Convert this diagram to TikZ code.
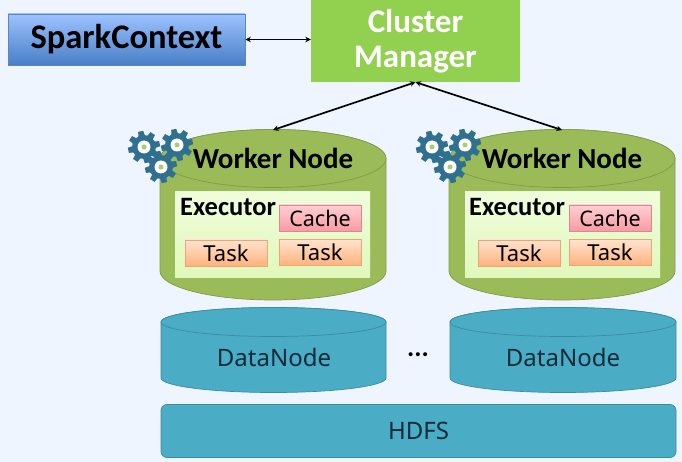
\documentclass[tikz,border=0pt]{standalone}
\usepackage{fontspec}
\setmainfont{Carlito}
\newfontfamily\thinfont{Noto Sans}
\usetikzlibrary{arrows.meta,calc}
\definecolor{bgc}{HTML}{EFF5FE}
\definecolor{wfill}{HTML}{9BBB59}
\definecolor{wline}{HTML}{7F9C48}
\definecolor{dfill}{HTML}{4BACC6}
\definecolor{dline}{HTML}{3A8CA2}
\definecolor{gearc}{HTML}{2F6F8F}
\definecolor{cmc}{HTML}{92D050}
\definecolor{sctop}{HTML}{9DC2FF}
\definecolor{scbot}{HTML}{487FC6}
\definecolor{scline}{HTML}{5B86BE}
\definecolor{catop}{HTML}{FFCFD2}
\definecolor{cabot}{HTML}{F99AA3}
\definecolor{caline}{HTML}{D98A8F}
\definecolor{tatop}{HTML}{FFE3CF}
\definecolor{tabot}{HTML}{FFB27C}
\definecolor{taline}{HTML}{EBA673}
\definecolor{extop}{HTML}{F0FDDC}
\definecolor{exbot}{HTML}{E0F8BC}
\definecolor{dtext}{HTML}{0F2A38}
\tikzset{
  link/.style={{Stealth[length=5.5pt,width=5.5pt]}-{Stealth[length=5.5pt,width=5.5pt]},line width=1.7pt,black},
  cmbox/.style={fill=cmc,draw=none,minimum width=209pt,minimum height=82pt,inner sep=0pt,align=center,text=white,font=\bfseries\fontsize{33}{34}\selectfont},
  scbox/.style={top color=sctop,bottom color=scbot,draw=scline,line width=.6pt,minimum width=237pt,minimum height=51pt,inner sep=0pt,font=\bfseries\fontsize{34.5}{36}\selectfont},
  cachebox/.style={top color=catop,bottom color=cabot,draw=caline,line width=.6pt,minimum width=82pt,minimum height=26pt,inner sep=0pt,font=\thinfont\fontsize{21.5}{24}\selectfont},
  taskbox/.style={top color=tatop,bottom color=tabot,draw=taline,line width=.6pt,minimum width=82pt,minimum height=26pt,inner sep=0pt,font=\thinfont\fontsize{22}{24}\selectfont},
  execbox/.style={top color=extop,bottom color=exbot,draw=none,minimum width=195pt,minimum height=85pt,inner sep=0pt},
  wlabel/.style={font=\bfseries\fontsize{29}{32}\selectfont,inner sep=0pt},
  elabel/.style={font=\bfseries\fontsize{26.5}{28}\selectfont,inner sep=0pt},
  dlabel/.style={font=\thinfont\fontsize{24}{28}\selectfont,text=dtext,inner sep=0pt},
  wcyl/.style={fill=wfill,draw=wline,line width=.7pt},
  dcyl/.style={fill=dfill,draw=dline,line width=.7pt},
}
\newcommand{\cyl}[6]{% style, cx, rx, top centre y, bottom centre y, ry
  \path[#1] (#2-#3,#4) -- (#2-#3,#5) arc[start angle=180,end angle=360,x radius=#3,y radius=-#6] -- (#2+#3,#4) arc[start angle=0,end angle=180,x radius=#3,y radius=-#6] -- cycle;
  \path[#1] (#2,#4) ellipse[x radius=#3,y radius=#6];
}
\newcommand{\geargl}[2]{% centre
  \begin{scope}[shift={(#1,#2)}]
    \fill[gearc] (0,0) circle[radius=12];
    \foreach \a in {0,45,...,315}{
      \fill[gearc,rotate=\a+12] (-3.4,-10) -- (-2.6,-16) -- (2.6,-16) -- (3.4,-10) -- cycle;
    }
    \fill[white] (0,0) circle[radius=6.5];
    \fill[wfill!80!white] (0,0) circle[radius=2.5];
  \end{scope}
}
\begin{document}
\begin{tikzpicture}[x=1pt,y=-1pt]
\useasboundingbox (0,0) rectangle (682,462);
\fill[bgc] (0,0) rectangle (682,462);

\node[scbox] (sc) at (126.5,39.5) {SparkContext};
\node[cmbox] (cm) at (415.5,41) {Cluster\\[1pt]Manager};

% left worker
\cyl{wcyl}{273}{113}{158.5}{271}{29}
\coordinate (w1top) at (273,130);
\node[execbox] (e1) at (272.5,234.5) {};
\node[wlabel] (w1) at (273,158) {Worker Node};
\node[elabel,anchor=west] (x1) at (180,207) {Executor};
\node[cachebox] (c1) at (320,218) {Cache};
\node[taskbox] (t1) at (226,253) {Task};
\node[taskbox] (t2) at (320,252.5) {Task};
\geargl{144}{147}\geargl{177}{145}\geargl{161}{167}

% right worker
\cyl{wcyl}{562}{113}{158.5}{271}{29}
\coordinate (w2top) at (562,130);
\node[execbox] (e2) at (562.5,234.5) {};
\node[wlabel] (w2) at (562,158) {Worker Node};
\node[elabel,anchor=west] (x2) at (469,207) {Executor};
\node[cachebox] (c2) at (610,218) {Cache};
\node[taskbox] (t3) at (519,253) {Task};
\node[taskbox] (t4) at (610,252.5) {Task};
\geargl{432}{147}\geargl{465}{145}\geargl{450}{167}

% data nodes
\cyl{dcyl}{273.5}{112.5}{322}{378}{14.5}
\node[dlabel] (d1) at (274,357) {DataNode};
\cyl{dcyl}{563}{113}{322}{378}{14.5}
\node[dlabel] (d2) at (563,357) {DataNode};
\node[font=\bfseries\fontsize{27}{28}\selectfont,inner sep=0pt] (dots) at (418,355) {...};

\node[fill=dfill,draw=dline,line width=.7pt,rounded corners=6pt,minimum width=515pt,minimum height=53pt,inner sep=0pt,dlabel] (hdfs) at (418.5,431) {HDFS};

\draw[link] (sc.east) -- (sc.east -| cm.west);
\draw[link] (cm.south) -- (w1top);
\draw[link] (cm.south) -- (w2top);
\end{tikzpicture}
\end{document}
